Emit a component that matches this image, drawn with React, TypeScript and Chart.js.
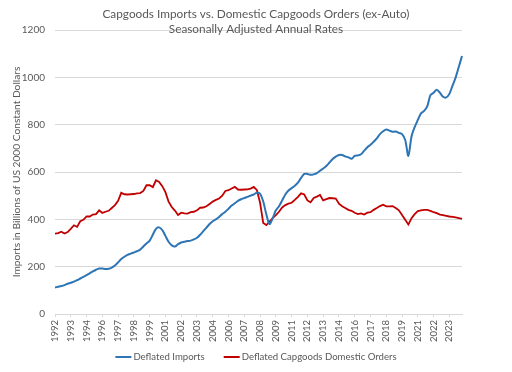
import React, { useEffect, useRef } from "react";
import { Chart, registerables } from "chart.js";

Chart.register(...registerables);

const FONT = "Lato, 'Open Sans', sans-serif";
const TEXT_COLOR = "#595959";
const GRID_COLOR = "#D9D9D9";

const firstYear = 1992;
const quarterCount = 130;
const quarters: string[] = Array.from(
  { length: quarterCount },
  (_, i) => `${firstYear + Math.floor(i / 4)} Q${(i % 4) + 1}`
);

const tickEvery = 5;
const tickYears = [
  "1992", "1993", "1994", "1996", "1997", "1998", "1999", "2001", "2002",
  "2003", "2004", "2006", "2007", "2008", "2009", "2011", "2012", "2013",
  "2014", "2016", "2017", "2018", "2019", "2021", "2022", "2023",
];

const titleLines = [
  "Capgoods Imports vs. Domestic Capgoods Orders (ex-Auto)",
  "Seasonally Adjusted Annual Rates",
];
const yAxisTitle = "Imports in Billions of US 2000 Constant Dollars";
const seriesNames = ["Deflated Imports", "Deflated Capgoods Domestic Orders"];
const seriesColors = ["#2E75B6", "#C00000"];

const importsData = [
  112, 115, 118, 122, 128, 132, 137, 143, 150, 157,
  164, 172, 180, 187, 192, 192, 190, 191, 196, 205,
  218, 232, 242, 250, 255, 260, 265, 272, 285, 298,
  310, 335, 360, 366, 355, 330, 305, 290, 285, 295,
  302, 305, 308, 310, 315, 322, 335, 350, 365, 380,
  392, 400, 410, 422, 432, 445, 458, 468, 478, 485,
  490, 495, 500, 505, 512, 508, 475, 420, 380, 405,
  438, 455, 480, 505, 522, 532, 542, 555, 575, 592,
  592, 588, 590, 595, 605, 615, 625, 640, 655, 665,
  672, 672, 666, 662, 656, 668, 670, 675, 690, 705,
  715, 728, 742, 760, 772, 780, 775, 770, 771, 765,
  760, 735, 668, 750, 790, 820, 848, 858, 878, 925,
  935, 948, 935, 918, 915, 930, 965, 1000, 1045, 1090,
];

const ordersData = [
  340, 342, 348, 340, 346, 360, 375, 368, 392, 398,
  412, 412, 420, 422, 438, 427, 432, 436, 448, 460,
  478, 512, 506, 505, 506, 507, 510, 511, 520, 544,
  544, 536, 565, 558, 540, 515, 475, 452, 437, 418,
  428, 425, 424, 430, 432, 438, 449, 450, 455, 465,
  475, 482, 488, 500, 520, 523, 530, 537, 526, 525,
  526, 527, 530, 537, 523, 470, 385, 376, 390, 405,
  418, 432, 450, 460, 466, 470, 482, 495, 510, 505,
  480, 472, 490, 496, 503, 480, 485, 490, 489, 488,
  466, 455, 448, 440, 436, 428, 422, 425, 420, 428,
  430, 440, 448, 456, 462, 455, 455, 456, 448, 438,
  418, 398, 378, 405, 422, 435, 438, 440, 440, 436,
  430, 426, 420, 418, 415, 412, 410, 408, 405, 402,
];

const overlayPlugin = {
  id: "overlay",
  afterDraw(chart: any) {
    const ctx = chart.ctx as CanvasRenderingContext2D;
    const cx = chart.width / 2;
    ctx.save();
    ctx.fillStyle = TEXT_COLOR;
    ctx.textAlign = "center";
    ctx.textBaseline = "middle";
    ctx.font = `11.8px ${FONT}`;
    ctx.fillText(titleLines[0], cx, 14);
    ctx.fillText(titleLines[1], cx, 29);

    // legend
    ctx.font = `9.6px ${FONT}`;
    const lineLen = 16;
    const gap = 2;
    const itemGap = 19;
    const widths = seriesNames.map((n) => ctx.measureText(n).width);
    const total =
      widths.reduce((a, w) => a + lineLen + gap + w, 0) + itemGap * (seriesNames.length - 1);
    let x = cx - total / 2;
    const y = 357;
    ctx.textAlign = "left";
    seriesNames.forEach((name, i) => {
      ctx.strokeStyle = seriesColors[i];
      ctx.lineWidth = 2;
      ctx.beginPath();
      ctx.moveTo(x, y);
      ctx.lineTo(x + lineLen, y);
      ctx.stroke();
      ctx.fillStyle = TEXT_COLOR;
      ctx.fillText(name, x + lineLen + gap, y);
      x += lineLen + gap + widths[i] + itemGap;
    });
    ctx.restore();
  },
};

export default function App() {
  const canvasRef = useRef<HTMLCanvasElement>(null);

  useEffect(() => {
    document.body.style.margin = "0";
    const canvas = canvasRef.current;
    if (!canvas) return;
    const chart = new Chart(canvas, {
      type: "line",
      data: {
        labels: quarters,
        datasets: [
          {
            label: seriesNames[0],
            data: importsData,
            borderColor: seriesColors[0],
            backgroundColor: seriesColors[0],
            borderWidth: 2,
            pointRadius: 0,
            tension: 0.3,
            fill: false,
          },
          {
            label: seriesNames[1],
            data: ordersData,
            borderColor: seriesColors[1],
            backgroundColor: seriesColors[1],
            borderWidth: 1.8,
            pointRadius: 0,
            tension: 0,
            fill: false,
          },
        ],
      },
      options: {
        responsive: false,
        animation: false,
        layout: { padding: { top: 30, right: 50, bottom: 28, left: 0 } },
        plugins: {
          legend: { display: false },
          title: { display: false },
          tooltip: { enabled: false },
        },
        scales: {
          x: {
            type: "category",
            offset: false,
            afterFit: (scale: any) => {
              scale.height = 30;
            },
            grid: {
              drawOnChartArea: false,
              drawTicks: true,
              tickLength: 3,
              color: (ctx: any) => (ctx.index % tickEvery === 0 ? GRID_COLOR : "rgba(0,0,0,0)"),
            },
            border: { display: true, color: GRID_COLOR },
            ticks: {
              autoSkip: false,
              minRotation: 90,
              maxRotation: 90,
              padding: 3,
              color: TEXT_COLOR,
              font: { family: FONT, size: 9.5 },
              callback: (_v: any, idx: number) =>
                idx % tickEvery === 0 ? tickYears[idx / tickEvery] ?? "" : "",
            },
          },
          y: {
            min: 0,
            max: 1200,
            afterFit: (scale: any) => {
              scale.width = 55;
            },
            ticks: {
              stepSize: 200,
              padding: 10,
              color: TEXT_COLOR,
              font: { family: FONT, size: 10 },
              callback: (v: any) => String(v),
            },
            grid: { color: GRID_COLOR, drawTicks: false },
            border: { display: false },
            title: {
              display: true,
              text: yAxisTitle,
              color: TEXT_COLOR,
              font: { family: FONT, size: 10.2 },
              padding: { top: 11, bottom: 0 },
            },
          },
        },
      },
      plugins: [overlayPlugin],
    });
    return () => chart.destroy();
  }, []);

  return (
    <div style={{ width: 512, height: 372, background: "#ffffff" }}>
      <canvas ref={canvasRef} width={512} height={372} />
    </div>
  );
}
